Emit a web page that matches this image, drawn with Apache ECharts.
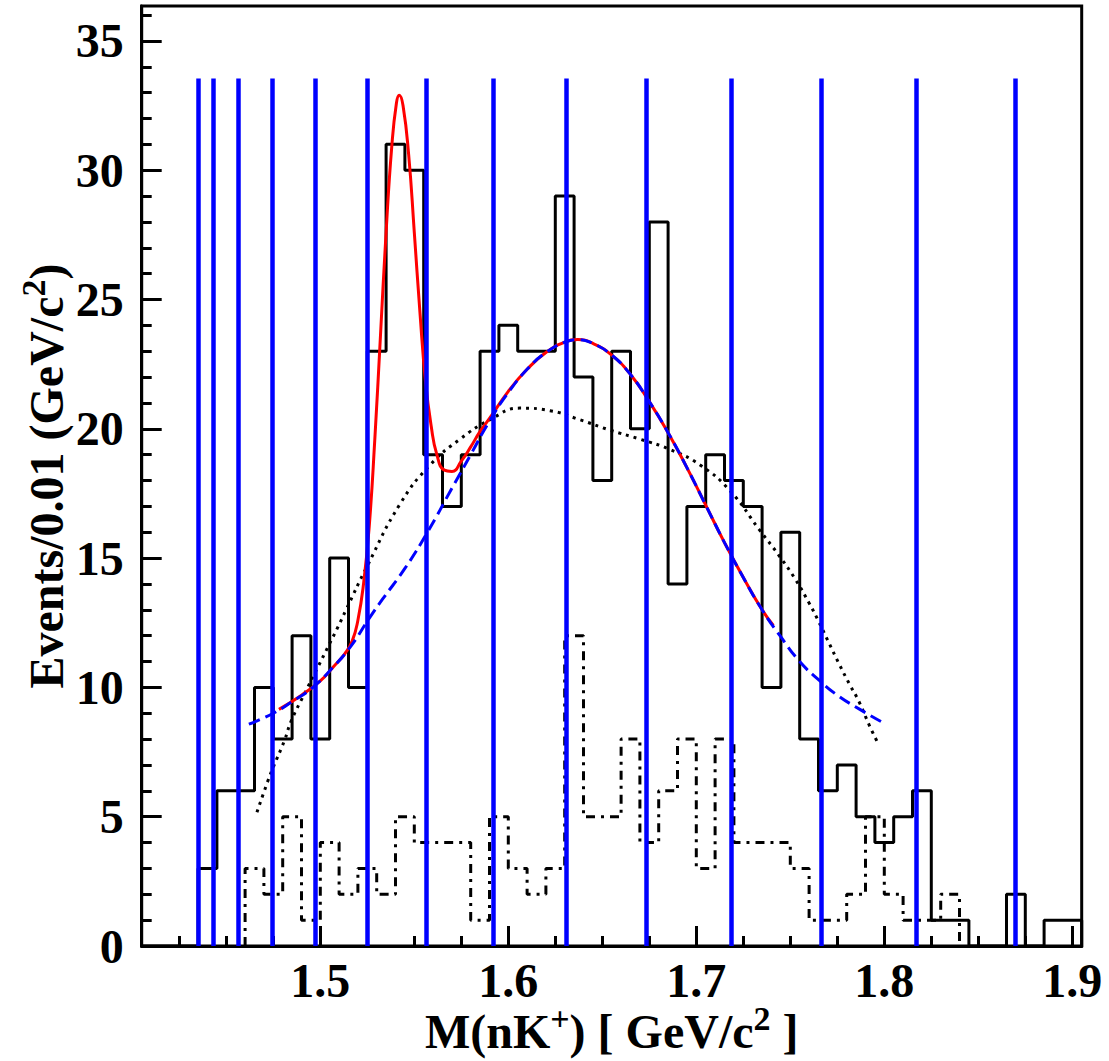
<!DOCTYPE html>
<html><head><meta charset="utf-8">
<script src="https://cdn.jsdelivr.net/npm/echarts@6/dist/echarts.min.js"></script>
<style>html,body{margin:0;padding:0;background:#fff;}#c{width:1109px;height:1061px;}</style>
</head><body><div id="c"></div>
<script>
// Solid histogram: bin edges and counts
const solidEdges = [1.405,1.415,1.425,1.435,1.445,1.455,1.465,1.475,1.485,1.495,1.505,1.515,1.525,1.535,1.545,1.555,1.565,1.575,1.585,1.595,1.605,1.615,1.625,1.635,1.645,1.655,1.665,1.675,1.685,1.695,1.705,1.715,1.725,1.735,1.745,1.755,1.765,1.775,1.785,1.795,1.805,1.815,1.825,1.835,1.845,1.855,1.865,1.875,1.885,1.895,1.905];
const solidCounts = [0,0,0,3,6,6,10,8,12,8,15,10,23,31,30,19,17,19,23,24,23,23,29,22,18,23,20,28,14,17,19,18,17,10,16,8,6,7,5,4,5,6,1,1,0,0,2,0,1,1];
// Dash-dot histogram
const dashEdges = [1.46,1.47,1.48,1.49,1.50,1.51,1.52,1.53,1.54,1.55,1.56,1.57,1.58,1.59,1.60,1.61,1.62,1.63,1.64,1.65,1.66,1.67,1.68,1.69,1.70,1.71,1.72,1.73,1.74,1.75,1.76,1.77,1.78,1.79,1.80,1.81,1.82,1.83,1.84];
const dashCounts = [3,2,5,1,4,2,3,2,5,4,4,4,1,5,3,2,3,12,5,5,8,4,6,8,3,8,4,4,4,3,1,1,2,5,2,1,1,2];
// Fit curve (red)
const fitX = [1.478,1.49,1.50,1.507,1.513,1.517,1.520,1.523,1.526,1.529,1.532,1.535,1.538,1.5405,1.542,1.544,1.547,1.550,1.553,1.556,1.559,1.562,1.566,1.570,1.575,1.58,1.585,1.59,1.60,1.61,1.62,1.63,1.637,1.645,1.655,1.665,1.675,1.685,1.695,1.705,1.715,1.725,1.735,1.741];
const fitY = [9.15,9.7,10.25,10.8,11.3,11.8,12.6,14.0,16.2,19.6,23.6,27.6,30.9,32.6,32.9,32.5,30.6,27.6,24.5,21.8,20.1,19.0,18.4,18.35,18.75,19.3,19.9,20.4,21.45,22.3,22.95,23.35,23.45,23.3,22.85,22.1,21.05,19.85,18.5,17.05,15.6,14.25,13.0,12.4];
// Background (blue dashed)
const bkgX = [1.462,1.475,1.485,1.496,1.507,1.516,1.526,1.533,1.545,1.557,1.57,1.58,1.59,1.60,1.61,1.62,1.63,1.637,1.645,1.655,1.665,1.675,1.685,1.695,1.705,1.715,1.725,1.735,1.745,1.755,1.765,1.775,1.787,1.7985];
const bkgY = [8.58,9.0,9.45,10.0,10.8,11.57,12.67,13.4,14.6,16.0,17.7,19.0,20.3,21.4,22.3,22.95,23.35,23.45,23.3,22.85,22.1,21.05,19.85,18.5,17.05,15.6,14.25,13.0,11.95,11.0,10.3,9.7,9.15,8.67];
// Dotted curve
const dotX = [1.4663,1.4722,1.4749,1.481,1.4845,1.4917,1.4988,1.5041,1.5094,1.5137,1.525,1.5425,1.5584,1.5743,1.5903,1.6062,1.6222,1.6381,1.654,1.67,1.686,1.702,1.718,1.7335,1.744,1.7525,1.7601,1.7654,1.7707,1.776,1.7813,1.7866,1.792,1.7967];
const dotY = [5.17,6.4,6.9,7.96,8.7,9.77,10.8,11.57,12.34,13.0,14.7,17.1,18.6,19.6,20.35,20.8,20.7,20.35,19.95,19.6,19.2,18.6,17.6,16.1,15.1,14.2,13.25,12.5,11.7,10.9,10.15,9.44,8.54,7.83];
// Blue vertical markers
const markerX = [1.4353,1.4431,1.4562,1.4744,1.4975,1.5248,1.5565,1.5919,1.6310,1.6733,1.7185,1.7664,1.8168,1.8699];
const markerTop = 33.55;
// Axis ticks / labels
const xMin = 1.405, xMax = 1.905;
const xLabels = [1.5,1.6,1.7,1.8,1.9];
const xMinor = [1.425,1.45,1.475,1.525,1.55,1.575,1.625,1.65,1.675,1.725,1.75,1.775,1.825,1.85,1.875];
const yMin = 0, yMax = 36.35;
const yLabels = [0,5,10,15,20,25,30,35];
const yMinor = [1,2,3,4,6,7,8,9,11,12,13,14,16,17,18,19,21,22,23,24,26,27,28,29,31,32,33,34,36];
const xTitle = 'M(nK{sup|+}) [ GeV/c{sup|2} ]';
const yTitle = 'Events/0.01 (GeV/c{sup|2})';

function histPoints(edges, counts){
  const n = counts.length;
  const p = [[edges[0],0]];
  for(let i=0;i<n;i++) p.push([edges[i],counts[i]]);
  p.push([edges[n],counts[n-1]]);
  p.push([edges[n],0]);
  return p;
}
const zip = (a,b)=>a.map((v,i)=>[v,b[i]]);
const FONT = '"Liberation Serif","Times New Roman",serif';
const supStyle = {fontSize:34, lineHeight:34, fontWeight:'bold', fontFamily:FONT, fill:'#000', verticalAlign:'top'};

const chart = echarts.init(document.getElementById('c'), null, {renderer:'svg'});
const axisCommon = {type:'value', min:xMin, max:xMax, splitLine:{show:false}};
chart.setOption({
  animation:false,
  backgroundColor:'#fff',
  grid:{left:141.7, right:27.3, top:6, bottom:115, show:true, borderColor:'#000', borderWidth:3, backgroundColor:'transparent'},
  xAxis:[
    Object.assign({}, axisCommon, {
      axisLine:{show:true, onZero:false, lineStyle:{color:'#000', width:3}},
      axisTick:{show:true, inside:true, length:20, customValues:xLabels, lineStyle:{color:'#000', width:3}},
      axisLabel:{show:true, customValues:xLabels, margin:10, color:'#000', fontSize:48, fontWeight:'bold', fontFamily:FONT, formatter:v=>v.toFixed(1)}
    }),
    Object.assign({}, axisCommon, {
      position:'bottom',
      axisLine:{show:false, onZero:false},
      axisTick:{show:true, inside:true, length:10, customValues:xMinor, lineStyle:{color:'#000', width:3}},
      axisLabel:{show:false}
    })
  ],
  yAxis:[
    {type:'value', min:yMin, max:yMax, splitLine:{show:false},
     axisLine:{show:true, onZero:false, lineStyle:{color:'#000', width:3}},
     axisTick:{show:true, inside:true, length:20, customValues:yLabels, lineStyle:{color:'#000', width:3}},
     axisLabel:{show:true, customValues:yLabels, margin:18, color:'#000', fontSize:48, fontWeight:'bold', fontFamily:FONT}},
    {type:'value', min:yMin, max:yMax, position:'left', splitLine:{show:false},
     axisLine:{show:false, onZero:false},
     axisTick:{show:true, inside:true, length:10, customValues:yMinor, lineStyle:{color:'#000', width:3}},
     axisLabel:{show:false}}
  ],
  series:[
    {type:'line', step:'end', data:histPoints(solidEdges, solidCounts), showSymbol:false, symbol:'none',
     lineStyle:{color:'#000', width:3}, z:2},
    {type:'line', step:'end', data:histPoints(dashEdges, dashCounts), showSymbol:false, symbol:'none',
     lineStyle:{color:'#000', width:3, type:[9,6,3,6]}, z:2},
    {type:'line', smooth:true, data:zip(dotX,dotY), symbol:'none',
     lineStyle:{color:'#000', width:3, type:[3,5]}, z:3},
    {type:'line', smooth:true, data:zip(fitX,fitY), symbol:'none',
     lineStyle:{color:'#ff0000', width:3}, z:4},
    {type:'line', smooth:true, data:zip(bkgX,bkgY), symbol:'none',
     lineStyle:{color:'#0000ff', width:3, type:[12,6]}, z:5},
    {type:'line', data:[], symbol:'none', z:6,
     markLine:{silent:true, symbol:['none','none'], label:{show:false},
       lineStyle:{color:'#0000ff', width:4.5, type:'solid'},
       data:markerX.map(x=>[{coord:[x,0]},{coord:[x,markerTop]}])}}
  ],
  graphic:[
    {type:'text', x:611.7, y:1031, z:10,
     style:{text:xTitle, fontSize:48, lineHeight:60, fontWeight:'bold', fontFamily:FONT, fill:'#000',
       textAlign:'center', textVerticalAlign:'middle', rich:{sup:supStyle}}},
    {type:'text', x:46, y:476, rotation:Math.PI/2, z:10,
     style:{text:yTitle, fontSize:48, lineHeight:60, fontWeight:'bold', fontFamily:FONT, fill:'#000',
       textAlign:'center', textVerticalAlign:'middle', rich:{sup:supStyle}}}
  ]
});
</script></body></html>
